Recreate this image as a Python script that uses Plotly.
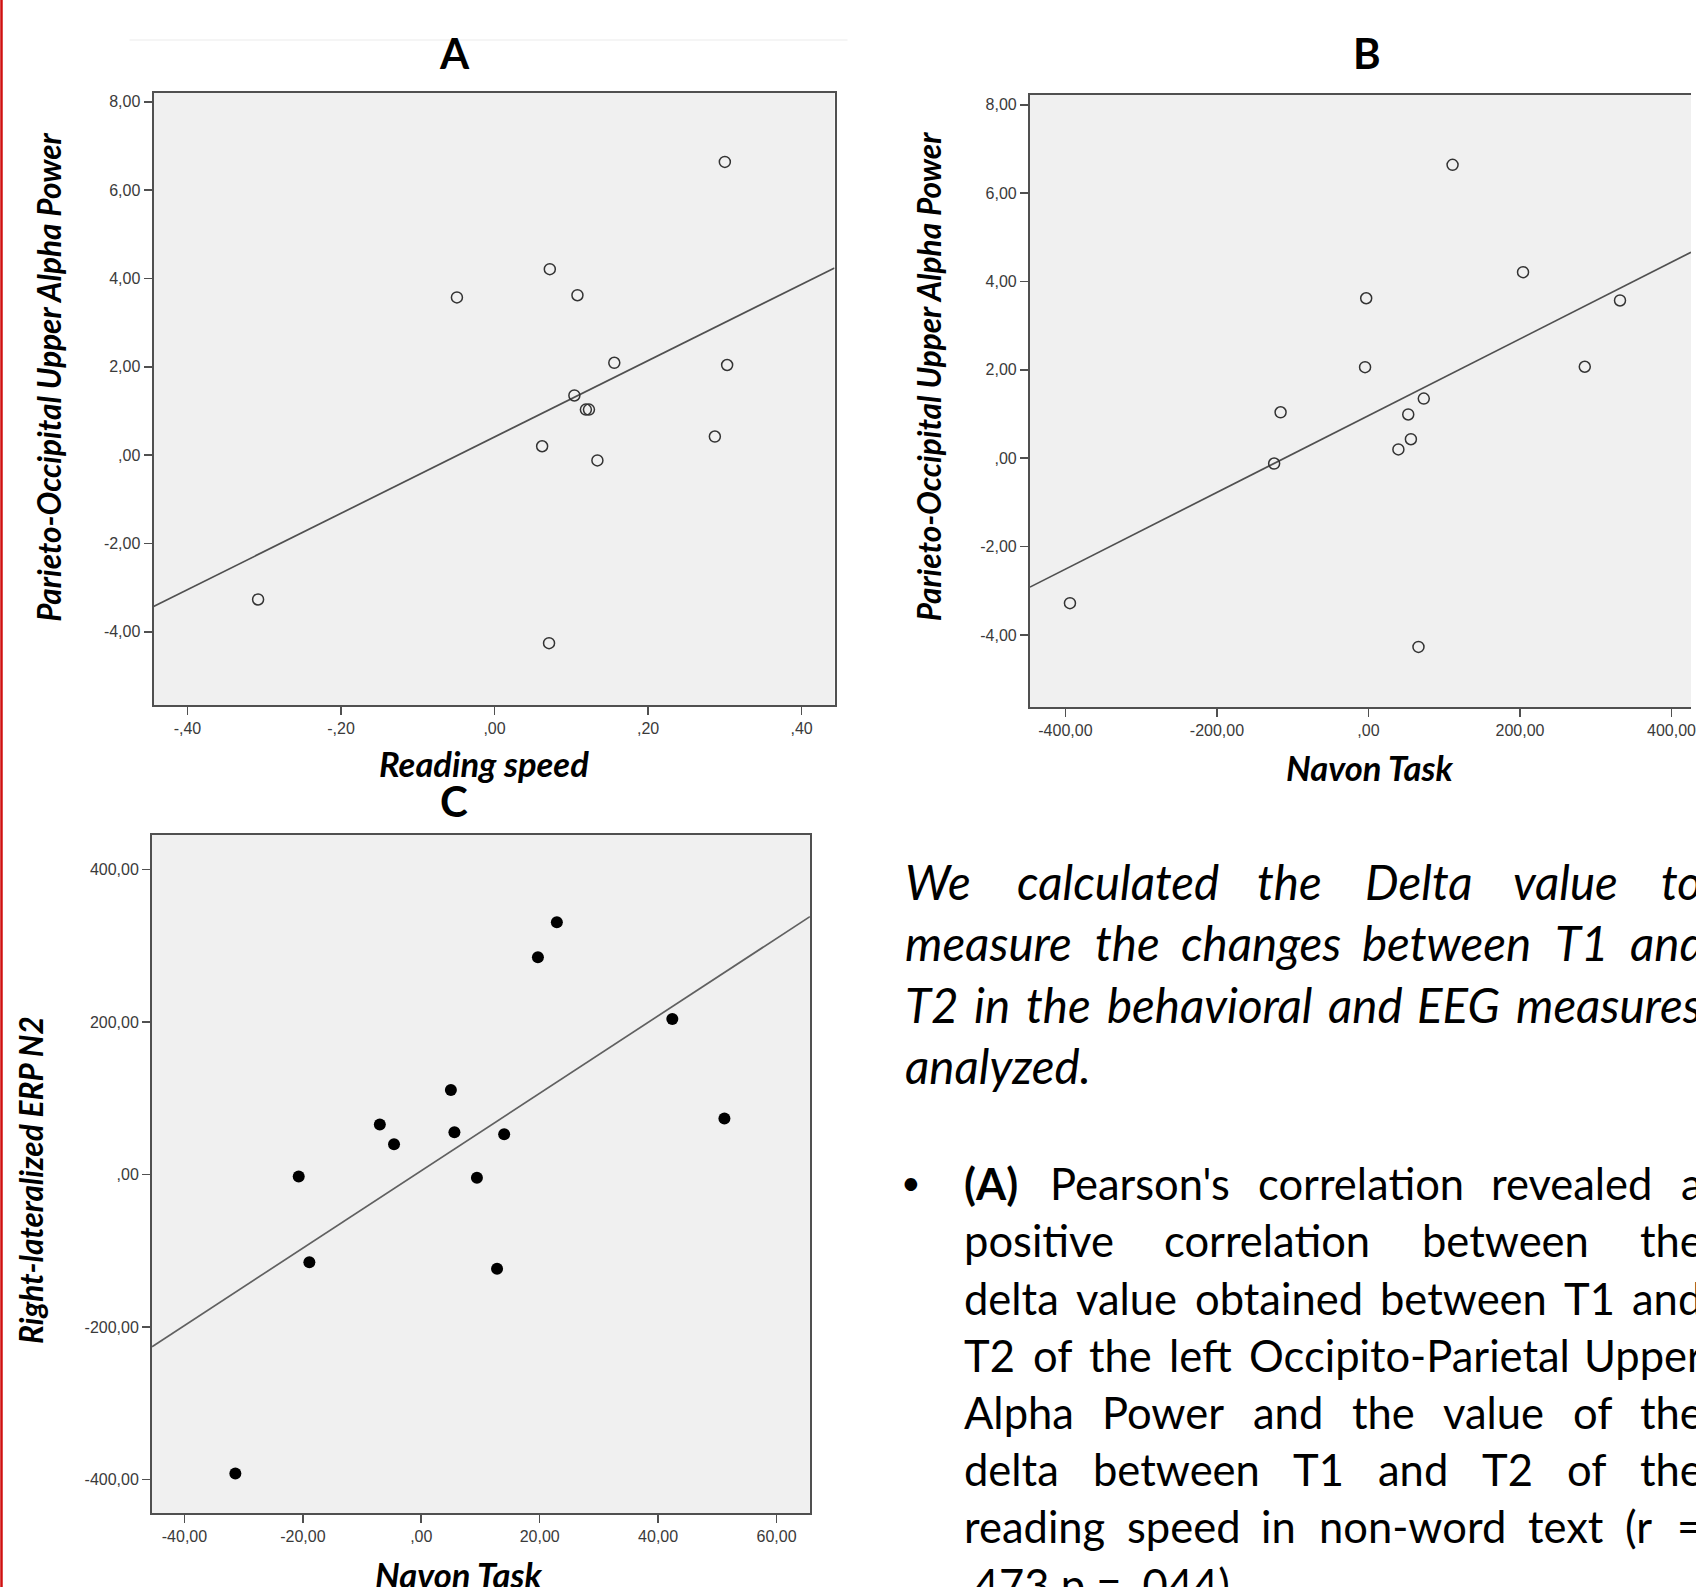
import numpy as np
import plotly.graph_objects as go

W, H = 1696, 1587

# ---------------- data ----------------
a_reading_speed = [0.300, 0.072, -0.049, 0.108, 0.156, 0.303, 0.104, 0.119, 0.123, 0.062, 0.287, 0.134, -0.308, 0.071]
a_alpha_power = [6.64, 4.21, 3.57, 3.62, 2.09, 2.04, 1.35, 1.03, 1.03, 0.20, 0.42, -0.12, -3.27, -4.26]

b_navon = [111, 204, -3, 332, -4.5, 285.5, -116, 73, 52.5, 56, 39.5, -124.5, -394, 66]
b_alpha_power = [6.64, 4.21, 3.62, 3.57, 2.06, 2.07, 1.04, 1.35, 0.99, 0.43, 0.20, -0.12, -3.28, -4.27]

c_navon = [22.9, 19.7, 42.4, 5.0, 51.2, -7.0, -4.6, 5.6, 14.0, -20.7, 9.4, -18.9, 12.8, -31.4]
c_erp_n2 = [331, 285, 204, 111, 73.7, 65.7, 39.8, 55.6, 53, -2.4, -4.2, -115, -123.3, -392]

a_xticks = [-0.4, -0.2, 0, 0.2, 0.4]
a_xlabels = ['-,40', '-,20', ',00', ',20', ',40']
ab_yticks = [-4, -2, 0, 2, 4, 6, 8]
ab_ylabels = ['-4,00', '-2,00', ',00', '2,00', '4,00', '6,00', '8,00']
b_xticks = [-400, -200, 0, 200, 400]
b_xlabels = ['-400,00', '-200,00', ',00', '200,00', '400,00']
c_xticks = [-40, -20, 0, 20, 40, 60]
c_xlabels = ['-40,00', '-20,00', ',00', '20,00', '40,00', '60,00']
c_yticks = [-400, -200, 0, 200, 400]
c_ylabels = ['-400,00', '-200,00', ',00', '200,00', '400,00']

panel_titles = ['A', 'B', 'C']
axis_titles = {
    'a_x': 'Reading speed', 'a_y': 'Parieto-Occipital Upper Alpha Power',
    'b_x': 'Navon Task', 'b_y': 'Parieto-Occipital Upper Alpha Power',
    'c_x': 'Navon Task', 'c_y': 'Right-lateralized ERP N2',
}

intro_lines = [
    "We calculated the Delta value to",
    "measure the changes between T1 and",
    "T2 in the behavioral and EEG measures",
    "analyzed.",
]
bullet_lines = [
    "(A) Pearson's correlation revealed a",
    "positive correlation between the",
    "delta value obtained between T1 and",
    "T2 of the left Occipito-Parietal Upper",
    "Alpha Power and the value of the",
    "delta between T1 and T2 of the",
    "reading speed in non-word text (r =",
    ",473 p = ,044).",
]

# ---------------- figure ----------------
fig = go.Figure()

ranges = {
    'A': dict(x=[-0.4442, 0.4429], y=[-5.66, 8.2]),
    'B': dict(x=[-446.8, 425.7], y=[-5.63, 8.22]),
    'C': dict(x=[-45.47, 65.64], y=[-444.0, 445.4]),
}

def fit_line(xs, ys, xr):
    b, a = np.polyfit(np.array(xs, float), np.array(ys, float), 1)
    xx = np.array(xr)
    return xx, a + b * xx

LINE_COL = '#505050'
# A
xx, yy = fit_line(a_reading_speed, a_alpha_power, ranges['A']['x'])
fig.add_trace(go.Scatter(x=xx, y=yy, mode='lines', line=dict(color=LINE_COL, width=1.7),
                         xaxis='x', yaxis='y', showlegend=False, hoverinfo='skip'))
fig.add_trace(go.Scatter(x=a_reading_speed, y=a_alpha_power, mode='markers',
                         marker=dict(symbol='circle-open', size=11, color='#333333', line=dict(width=1.5)),
                         xaxis='x', yaxis='y', showlegend=False))
# B
xx, yy = fit_line(b_navon, b_alpha_power, ranges['B']['x'])
fig.add_trace(go.Scatter(x=xx, y=yy, mode='lines', line=dict(color=LINE_COL, width=1.7),
                         xaxis='x2', yaxis='y2', showlegend=False, hoverinfo='skip'))
fig.add_trace(go.Scatter(x=b_navon, y=b_alpha_power, mode='markers',
                         marker=dict(symbol='circle-open', size=11, color='#333333', line=dict(width=1.5)),
                         xaxis='x2', yaxis='y2', showlegend=False))
# C
xx, yy = fit_line(c_navon, c_erp_n2, ranges['C']['x'])
fig.add_trace(go.Scatter(x=xx, y=yy, mode='lines', line=dict(color='#606060', width=1.7),
                         xaxis='x3', yaxis='y3', showlegend=False, hoverinfo='skip'))
fig.add_trace(go.Scatter(x=c_navon, y=c_erp_n2, mode='markers',
                         marker=dict(symbol='circle', size=12, color='black', line=dict(width=0)),
                         xaxis='x3', yaxis='y3', showlegend=False))

tickfont = dict(family='Liberation Sans, Arial', size=16, color='#3a3a3a')
def ax(domain, rng, tv, tt, mirror=True):
    return dict(domain=domain, range=rng, tickvals=tv, ticktext=tt, showgrid=False, zeroline=False,
                showline=True, linecolor=LINE_COL, linewidth=2, mirror=mirror, ticks='outside',
                ticklen=8, tickwidth=1.6, tickcolor=LINE_COL, tickfont=tickfont,
                ticklabeloverflow='allow', fixedrange=True)

fig.update_layout(
    width=W, height=H, autosize=False,
    margin=dict(l=0, r=0, t=0, b=0),
    paper_bgcolor='white', plot_bgcolor='#f0f0f0',
    xaxis=ax([154 / W, 837 / W], ranges['A']['x'], a_xticks, a_xlabels),
    yaxis=ax([1 - 705 / H, 1 - 93 / H], ranges['A']['y'], ab_yticks, ab_ylabels),
    xaxis2=ax([1033 / W, 1.0], ranges['B']['x'], b_xticks, b_xlabels),
    yaxis2=ax([1 - 707 / H, 1 - 95 / H], ranges['B']['y'], ab_yticks, ab_ylabels, mirror=False),
    xaxis3=ax([152.5 / W, 812.3 / W], ranges['C']['x'], c_xticks, c_xlabels),
    yaxis3=ax([1 - 1513.2 / H, 1 - 835 / H], ranges['C']['y'], c_yticks, c_ylabels),
)
fig.layout.xaxis2.anchor = 'y2'
fig.layout.yaxis2.anchor = 'x2'
fig.layout.xaxis3.anchor = 'y3'
fig.layout.yaxis3.anchor = 'x3'

FONT = 'Lato, Noto Sans, sans-serif'

def put(xp, yp, s, size, xanchor='left', italic=False, bold=False, angle=0, color='black'):
    fig.add_annotation(xref='paper', yref='paper', x=xp / W, y=1 - yp / H, text=s, showarrow=False,
                       xanchor=xanchor, yanchor='middle', textangle=angle,
                       font=dict(family=FONT, size=size, color=color,
                                 style='italic' if italic else 'normal',
                                 weight='bold' if bold else 'normal'))

# panel titles
put(456, 53, panel_titles[0], 42, xanchor='center', bold=True)
put(1371, 53, panel_titles[1], 42, xanchor='center', bold=True)
put(455, 801, panel_titles[2], 42, xanchor='center', bold=True)

# axis titles
XT, YT = 34.5, 31.5
put(485, 763, axis_titles['a_x'], XT, xanchor='center', italic=True, bold=True)
put(49, 377, axis_titles['a_y'], YT, xanchor='center', italic=True, bold=True, angle=-90)
put(1374, 767, axis_titles['b_x'], XT, xanchor='center', italic=True, bold=True)
put(932, 377, axis_titles['b_y'], YT, xanchor='center', italic=True, bold=True, angle=-90)
put(460, 1574, axis_titles['c_x'], XT, xanchor='center', italic=True, bold=True)
put(31, 1180, axis_titles['c_y'], YT, xanchor='center', italic=True, bold=True, angle=-90)

# approximate advance widths (em) for laying out justified text
CW = {' ': 0.193, 'a': 0.49, 'b': 0.56, 'c': 0.46, 'd': 0.56, 'e': 0.52, 'f': 0.32, 'g': 0.50, 'h': 0.56,
      'i': 0.24, 'j': 0.24, 'k': 0.50, 'l': 0.24, 'm': 0.84, 'n': 0.56, 'o': 0.56, 'p': 0.55, 'q': 0.56,
      'r': 0.37, 's': 0.42, 't': 0.35, 'u': 0.56, 'v': 0.51, 'w': 0.78, 'x': 0.49, 'y': 0.51, 'z': 0.45,
      'A': 0.67, 'B': 0.63, 'C': 0.66, 'D': 0.73, 'E': 0.56, 'F': 0.54, 'G': 0.71, 'H': 0.75, 'I': 0.28,
      'L': 0.50, 'M': 0.91, 'N': 0.75, 'O': 0.80, 'P': 0.59, 'R': 0.61, 'S': 0.51, 'T': 0.58, 'U': 0.72,
      'W': 1.0, '0': 0.58, '1': 0.58, '2': 0.58, '3': 0.58, '4': 0.58, '7': 0.58, ',': 0.22, '.': 0.22,
      '-': 0.36, '(': 0.30, ')': 0.30, "'": 0.21, '=': 0.58}

def wlen(word, size, k):
    return sum(CW.get(c, 0.55) for c in word) * size * k

def paragraph(lines, x0, xr, base0, step, size, italic, k, bold_first=False):
    for i, line in enumerate(lines):
        base = base0 + i * step
        ymid = base - 0.387 * size
        words = line.split(' ')
        last = (i == len(lines) - 1)
        if last:
            put(x0, ymid, line, size, italic=italic)
            continue
        ws = []
        for j, wd in enumerate(words):
            kk = k * 1.05 if (bold_first and i == 0 and j == 0) else k
            ws.append(wlen(wd, size, kk))
        gap = (xr - x0 - sum(ws)) / (len(words) - 1)
        x = x0
        for j, wd in enumerate(words):
            isb = bold_first and i == 0 and j == 0
            put(x, ymid, wd, size, italic=italic, bold=isb)
            x += ws[j] + gap

paragraph(intro_lines, 906, 1705, 900, 61.3, 47.5, True, 0.95)
put(914, 1200 - 0.42 * 43, '•', 34, xanchor='center')
paragraph(bullet_lines, 965, 1705, 1200, 57.2, 43.5, False, 1.0, bold_first=True)

# red slide border on the left edge and faint scan line
fig.add_shape(type='line', xref='paper', yref='paper', x0=1.5 / W, x1=1.5 / W, y0=0, y1=1,
              line=dict(color='#d01010', width=2.5))
fig.add_shape(type='line', xref='paper', yref='paper', x0=130 / W, x1=850 / W, y0=1 - 40 / H, y1=1 - 40 / H,
              line=dict(color='#f5f5f5', width=2))

fig.write_html("out.html", include_plotlyjs=True, full_html=True,
               config={'displayModeBar': False, 'staticPlot': True},
               post_script="document.body.style.margin='0px';document.body.style.overflow='hidden';")
